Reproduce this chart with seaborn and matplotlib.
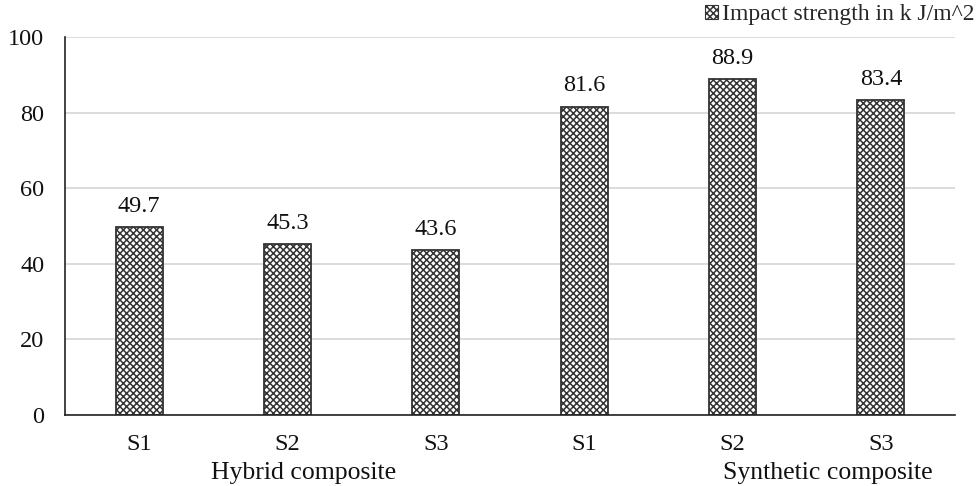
import matplotlib
matplotlib.use("Agg")
import matplotlib.pyplot as plt
import seaborn as sns
import pandas as pd
from matplotlib.patches import Patch

samples = ["S1", "S2", "S3", "S1", "S2", "S3"]
groups = ["Hybrid composite"] * 3 + ["Synthetic composite"] * 3
impact = [49.7, 45.3, 43.6, 81.6, 88.9, 83.4]
series_name = "Impact strength in k J/m^2"

df = pd.DataFrame({"pos": [f"{g}-{s}" for g, s in zip(groups, samples)],
                   "sample": samples, "group": groups, "value": impact})

sns.set_style("white")
plt.rcParams["font.family"] = ["Liberation Serif", "DejaVu Serif"]
plt.rcParams["hatch.linewidth"] = 1.1
plt.rcParams["hatch.color"] = "#111111"

TXT = "#111111"
FS = 17.5
HATCH = "xxxxx"

fig = plt.figure(figsize=(9.76, 4.86), dpi=100)
ax = fig.add_axes([65 / 976, 71 / 486, 890 / 976, 378 / 486])

sns.barplot(data=df, x="pos", y="value", ax=ax, color="white",
            width=0.317, edgecolor="#333333", linewidth=1.3)
for p in ax.patches:
    p.set_hatch(HATCH)
    p.set_facecolor("white")

# value labels above each bar
for p, v in zip(ax.patches, impact):
    ax.text(p.get_x() + p.get_width() / 2, v + 4.0, f"{v}",
            ha="center", va="baseline", fontsize=FS, color=TXT)

ax.set_ylim(0, 100)
ax.set_xlim(-0.5, 5.5)
ax.set_yticks(range(0, 101, 20))
ax.yaxis.grid(True, color="#d9d9d9", linewidth=1.3)
ax.set_axisbelow(True)
ax.set_xticks(range(6))
ax.set_xticklabels(samples)
ax.tick_params(axis="both", labelsize=FS, length=0, colors=TXT)
ax.tick_params(axis="x", pad=14)
ax.tick_params(axis="y", pad=15)
ax.set_xlabel("")
ax.set_ylabel("")
for s in ["top", "right"]:
    ax.spines[s].set_visible(False)
ax.spines["left"].set_color("#222222")
ax.spines["bottom"].set_color("#222222")
ax.spines["left"].set_linewidth(1.2)
ax.spines["bottom"].set_linewidth(1.2)

# group labels under the sample ticks
xform = ax.get_xaxis_transform()
ax.text(1.11, -0.125, "Hybrid composite", transform=xform,
        ha="center", va="top", fontsize=18.5, color=TXT)
ax.text(4.64, -0.125, "Synthetic composite", transform=xform,
        ha="center", va="top", fontsize=18.5, color=TXT)

handle = Patch(facecolor="white", edgecolor="#333333", hatch=HATCH, linewidth=0.8)
fig.legend([handle], [series_name], loc="upper right",
           bbox_to_anchor=(974 / 976, 1 - 4 / 486),
           frameon=False, fontsize=17, handlelength=0.55, handleheight=0.55,
           handletextpad=0.15, borderaxespad=0, borderpad=0)

fig.savefig("out.png", dpi=100)
